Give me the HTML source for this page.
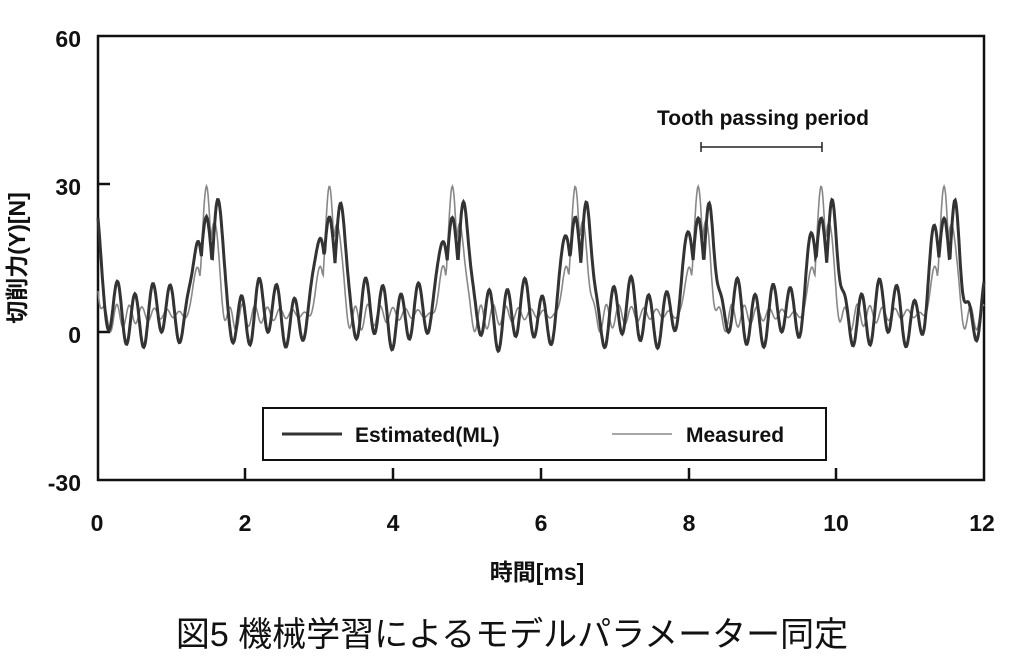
<!DOCTYPE html>
<html><head><meta charset="utf-8"><style>
body{margin:0;background:#fff;width:1024px;height:658px;overflow:hidden}
text{font-family:"Liberation Sans","Noto Sans CJK JP",sans-serif;fill:#111}
</style></head><body>
<svg id="s" width="1024" height="658" xmlns="http://www.w3.org/2000/svg">
<rect x="98" y="36" width="886" height="444" fill="none" stroke="#111" stroke-width="2.5"/>
<g stroke="#111" stroke-width="2.5">
<line x1="98" y1="184" x2="110" y2="184"/><line x1="98" y1="332" x2="110" y2="332"/>
<line x1="245" y1="480" x2="245" y2="468"/><line x1="393" y1="480" x2="393" y2="468"/>
<line x1="541" y1="480" x2="541" y2="468"/><line x1="689" y1="480" x2="689" y2="468"/>
<line x1="836" y1="480" x2="836" y2="468"/>
</g>
<g font-size="23" font-weight="bold" text-anchor="end">
<text x="81" y="47">60</text><text x="81" y="195">30</text><text x="81" y="343">0</text><text x="81" y="491">-30</text>
</g>
<g font-size="23" font-weight="bold" text-anchor="middle">
<text x="97" y="531">0</text><text x="245" y="531">2</text><text x="393" y="531">4</text><text x="541" y="531">6</text><text x="689" y="531">8</text><text x="836" y="531">10</text><text x="982" y="531">12</text>
</g>
<text x="537" y="580" font-size="23" font-weight="bold" text-anchor="middle">時間[ms]</text>
<text transform="translate(25,258) rotate(-90)" font-size="23" font-weight="bold" text-anchor="middle">切削力(Y)[N]</text>
<text x="512" y="646" font-size="34" text-anchor="middle">図5 機械学習によるモデルパラメーター同定</text>
<text x="763" y="125" font-size="21" font-weight="bold" text-anchor="middle">Tooth passing period</text>
<g stroke="#222" stroke-width="1.5"><line x1="701" y1="147" x2="822" y2="147"/><line x1="701" y1="142" x2="701" y2="152"/><line x1="822" y1="142" x2="822" y2="152"/></g>
<path id="m" fill="none" stroke="#888" stroke-width="1.6"/>
<path id="e" fill="none" stroke="#333" stroke-width="3"/>
<rect x="263" y="408" width="563" height="52" fill="#fff" stroke="#111" stroke-width="2"/>
<line x1="282" y1="434" x2="342" y2="434" stroke="#333" stroke-width="3"/>
<text x="355" y="442" font-size="21" font-weight="bold">Estimated(ML)</text>
<line x1="612" y1="434" x2="672" y2="434" stroke="#888" stroke-width="1.6"/>
<text x="686" y="442" font-size="21" font-weight="bold">Measured</text>
</svg>
<script>
var P=1.665,c0=1.47;
function g(x,s){return Math.exp(-x*x/(2*s*s));}
function ph(t){var d=((t-c0)%P+P)%P;if(d>P/2)d-=P;return d;}
function est(t){var d=ph(t);
var pk=Math.max(23*g(d,0.075),26.5*g(d-0.15,0.065),19*g(d+0.12,0.07));
var w=1-g(d-0.05,0.2);
var a=d<0?d+P:d;
var r=4+6*Math.sin(2*Math.PI*t/0.24+1)+2*Math.sin(2*Math.PI*t/0.7);
r*=(0.7+0.5*Math.exp(-(a)*0.9));
return pk+w*r;}
function mea(t){var d=ph(t);
var pk=Math.max(29.5*g(d,0.06),22*g(d-0.1,0.07),12*g(d+0.12,0.06));
var w=1-g(d-0.03,0.17);
var a=d<0?d+P:d;
var r=2.5-4*Math.cos(2*Math.PI*t/0.17)*Math.exp(-(a-0.2)*1.6)+1.5*(1-Math.exp(-a*1.5));
return pk+w*r;}
function X(t){return 98+t*73.83}function Y(v){return 332-v*4.933}
function path(f){var s="";for(var t=0;t<=12.0001;t+=0.01){s+=(t==0?"M":"L")+X(t).toFixed(1)+","+Y(f(t)).toFixed(1);}return s;}
document.getElementById("e").setAttribute("d",path(est));
document.getElementById("m").setAttribute("d",path(mea));
</script>
</body></html>
